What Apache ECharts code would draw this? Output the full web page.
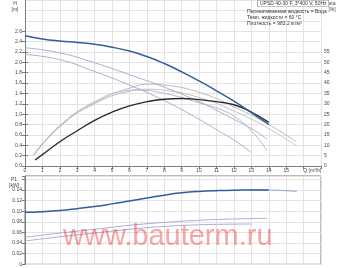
<!DOCTYPE html>
<html><head><meta charset="utf-8">
<script src="https://cdn.jsdelivr.net/npm/echarts@6/dist/echarts.min.js"></script>
<style>html,body{margin:0;padding:0;background:#fff}#c{width:340px;height:268px}</style>
</head><body><div id="c"></div>
<script>
// ---- data ----
const hMaxQ = [0,1,2,3,4,5,6,7,8,9,10,11,12,13,14];
const hMaxH = [2.51,2.45,2.41,2.38,2.345,2.29,2.215,2.11,1.975,1.815,1.64,1.45,1.25,1.03,0.80];
const hMidQ = [0,2,4,6,8,10,11.3,12,13,13.9];
const hMidH = [2.28,2.18,1.99,1.76,1.52,1.24,1.02,0.90,0.72,0.52];
const hMinQ = [0,2,4,6,8,10,11.3,12,13];
const hMinH = [2.15,2.05,1.82,1.56,1.26,0.90,0.64,0.50,0.26];
const etaAQ = [0.5,2,4,6,7.2,8,10,12,14,15.6];
const etaAV = [5.5,19.5,31,37.5,39.4,39,35.5,28.5,20,11.6];
const etaBQ = [0.5,2,4,6,7,8,10,12,14,15.6];
const etaBV = [5,19,30.5,36.5,37,36.5,33,26.5,18,9.6];
const etaCQ = [0.5,2,4,6,6.6,8,10,11.3,12,13,13.9];
const etaCV = [5,19,30,36,36.5,35,30.5,27,24,17,7.4];
const etaMaxQ = [0.58,1,2,3,4,5,6,7,8,9,10,11,12,13,14];
const etaMaxV = [2.9,5.5,11.7,17,22,26,29,31,32.2,32.5,32,31,29.5,26,21];
const pMaxQ = [0,1,2,3,4,5,6,7,8,9,10,11,12,13,14];
const pMaxV = [0.098,0.0993,0.1015,0.105,0.109,0.114,0.1195,0.125,0.1305,0.1348,0.1375,0.139,0.1398,0.140,0.140];
const pExtQ = [13,14,15,15.6];
const pExtV = [0.140,0.1402,0.139,0.1377];
const pMidQ = [0,2,4,6,8,10,12,13.9];
const pMidV = [0.051,0.059,0.066,0.0735,0.079,0.083,0.0855,0.0868];
const pMinQ = [0,2,4,6,8,10,12,13];
const pMinV = [0.044,0.052,0.059,0.066,0.0715,0.0745,0.0758,0.076];
const titleText = 'UPSD 40-30 F, 3*400 V, 50Hz';
const infoLines = ['Перекачиваемая жидкость = Вода','Темп. жидкости = 60 °C','Плотность = 983.2 кг/м³'];
const watermark = 'www.bauterm.ru';

const pairs = (xs, ys) => xs.map((x,i)=>[x, ys[i]]);
const FONT = 'Liberation Sans, Arial, sans-serif';
const LBL = {fontSize:5, color:'#444', fontFamily:FONT};
const GRIDC = '#e3e3e3', AXC = '#7a7a7a';

const chart = echarts.init(document.getElementById('c'), null, {renderer:'canvas'});
const line = (name, xi, yi, data, color, w) => ({
  name, type:'line', xAxisIndex:xi, yAxisIndex:yi, data, smooth:0.5, symbol:'none',
  lineStyle:{color, width:w}, silent:true, animation:false, z:3
});
chart.setOption({
  animation:false,
  grid:[
    {left:25, top:0, width:296, height:166},
    {left:25, top:31.125, width:296, height:134.875},
    {left:25, top:51.875, width:296, height:114.125},
    {left:25, top:176, width:296, height:88.3, show:true, borderColor:AXC, borderWidth:1}
  ],
  xAxis:[
    {gridIndex:0, type:'value', min:0, max:17, interval:1,
     axisLine:{show:true, onZero:false, lineStyle:{color:AXC}},
     axisTick:{show:true, length:3, lineStyle:{color:AXC}},
     axisLabel:Object.assign({margin:2.5, formatter:v=> v<=15 ? String(v) : ''}, LBL),
     splitLine:{show:true, lineStyle:{color:GRIDC}}},
    {gridIndex:1, type:'value', min:0, max:17, show:false},
    {gridIndex:2, type:'value', min:0, max:17, show:false},
    {gridIndex:3, type:'value', min:0, max:17, interval:1,
     axisLine:{show:false}, axisTick:{show:false}, axisLabel:{show:false},
     splitLine:{show:true, lineStyle:{color:GRIDC}}}
  ],
  yAxis:[
    {gridIndex:0, type:'value', min:0, max:3.2, interval:0.2,
     axisLine:{show:true, onZero:false, lineStyle:{color:AXC}}, axisTick:{show:false}, axisLabel:{show:false},
     splitLine:{show:true, lineStyle:{color:GRIDC}}},
    {gridIndex:0, type:'value', min:0, max:80, position:'right', show:false},
    {gridIndex:1, type:'value', min:0, max:2.6, interval:0.2,
     axisLine:{show:false}, axisTick:{show:true, length:3, lineStyle:{color:AXC}},
     axisLabel:Object.assign({margin:3, formatter:v=>v.toFixed(1)}, LBL), splitLine:{show:false}},
    {gridIndex:2, type:'value', min:0, max:55, interval:5, position:'right',
     axisLine:{show:true, lineStyle:{color:AXC}}, axisTick:{show:true, length:3, lineStyle:{color:AXC}},
     axisLabel:Object.assign({margin:3}, LBL), splitLine:{show:false}},
    {gridIndex:3, type:'value', min:0, max:0.1666, interval:0.02,
     axisLine:{show:true, lineStyle:{color:AXC}}, axisTick:{show:true, length:3, lineStyle:{color:AXC}},
     axisLabel:Object.assign({margin:3, formatter:v=> v>0.15 ? '' : (v===0 ? '0' : v.toFixed(2))}, LBL),
     splitLine:{show:true, lineStyle:{color:GRIDC}}}
  ],
  series:[
    line('etaA',0,1,pairs(etaAQ,etaAV),'#bdbdbd',1),
    line('etaB',0,1,pairs(etaBQ,etaBV),'#c4c4c4',1),
    line('etaC',0,1,pairs(etaCQ,etaCV),'#b4b9cf',1),
    line('H2',0,0,pairs(hMidQ,hMidH),'#a7afd3',1),
    line('H1',0,0,pairs(hMinQ,hMinH),'#a7afd3',1),
    line('eta3',0,1,pairs(etaMaxQ,etaMaxV),'#2a2a2a',1.4),
    line('H3',0,0,pairs(hMaxQ,hMaxH),'#2f5f9c',1.5),
    line('Pext',3,4,pairs(pExtQ,pExtV),'#9fb2d2',1.2),
    line('P3',3,4,pairs(pMaxQ,pMaxV),'#2f5f9c',1.5),
    line('P2',3,4,pairs(pMidQ,pMidV),'#a7afd3',1),
    line('P1',3,4,pairs(pMinQ,pMinV),'#a7afd3',1)
  ]
});
const qx = chart.convertToPixel({xAxisIndex:0}, 16.5);
const txt = (x,y,text,extra) => ({type:'text', x, y, z:10, silent:true,
  style:Object.assign({text, fontSize:5, fill:'#444', fontFamily:FONT}, extra||{})});
chart.setOption({graphic:[
  txt(15,1,'H\n[m]',{align:'center', lineHeight:6}),
  txt(14,177,'P1\n[kW]',{align:'center', lineHeight:6}),
  txt(332,1,'eta\n[%]',{align:'center', lineHeight:6}),
  txt(qx,168.5,'Q [m³/h]',{align:'center'}),
  txt(258,0.5,titleText,{fill:'#333', borderColor:'#888', borderWidth:0.6, padding:[0.5,2,0.5,2], backgroundColor:'#fff'}),
  txt(247,9,infoLines[0],{fill:'#333'}),
  txt(247,15,infoLines[1],{fill:'#333'}),
  txt(247,21,infoLines[2],{fill:'#333'}),
  {type:'text', x:63, y:222, z:20, silent:true,
   style:{text:watermark, fontSize:29, fontFamily:FONT, fill:'rgba(238,55,55,0.45)'}}
]});
</script></body></html>
